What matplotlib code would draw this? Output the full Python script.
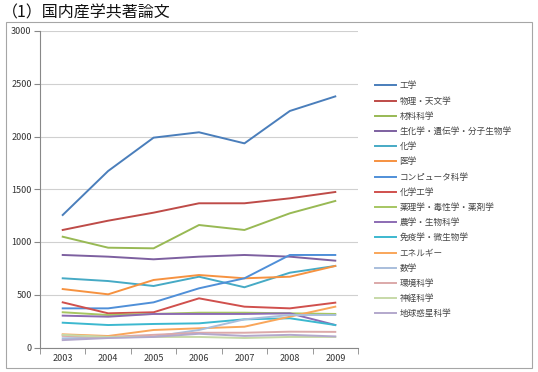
import matplotlib
matplotlib.use("Agg")
import matplotlib.pyplot as plt
from matplotlib.patches import Rectangle

plt.rcParams['font.family'] = ['Noto Sans CJK JP', 'DejaVu Sans']

years = ['2003', '2004', '2005', '2006', '2007', '2008', '2009']
fields = ['工学', '物理・天文学', '材料科学', '生化学・遺伝学・分子生物学', '化学', '医学',
          'コンピュータ科学', '化学工学', '薬理学・毒性学・薬剤学', '農学・生物科学',
          '免疫学・微生物学', 'エネルギー', '数学', '環境科学', '神経科学', '地球惑星科学']

eng = [1256, 1673, 1989, 2040, 1935, 2242, 2380]
phys = [1114, 1202, 1278, 1367, 1367, 1414, 1474]
mat = [1050, 946, 940, 1161, 1114, 1272, 1389]
biochem = [877, 861, 836, 861, 877, 861, 823]
chem = [656, 630, 583, 671, 571, 709, 773]
med = [554, 504, 640, 687, 656, 671, 773]
comp = [371, 371, 428, 561, 656, 877, 877]
chemeng = [428, 324, 334, 466, 387, 371, 425]
pharm = [334, 308, 318, 330, 330, 324, 318]
agri = [302, 292, 318, 318, 318, 324, 213]
immu = [235, 213, 223, 229, 267, 277, 213]
energy = [125, 109, 166, 182, 197, 292, 387]
math_ = [87, 95, 103, 166, 267, 308, 308]
env = [110, 100, 120, 140, 140, 150, 148]
neuro = [120, 100, 100, 100, 90, 100, 100]
earth = [70, 90, 100, 130, 110, 120, 105]

series = [eng, phys, mat, biochem, chem, med, comp, chemeng, pharm, agri, immu,
          energy, math_, env, neuro, earth]
colors = ['#4A7EBB', '#BE4B48', '#98B954', '#7D60A0', '#46AAC5', '#F69240',
          '#4F8FD8', '#D0504D', '#A6C662', '#8C6BB3', '#3CB8CF', '#F9A65A',
          '#A9BEDC', '#DCA9A9', '#C7D9A8', '#B3A8CC']

fig = plt.figure(figsize=(5.38, 3.72), dpi=100)
W, H = 538, 372

# chart outer frame
fig.patches.append(Rectangle((6 / W, 4 / H), 526 / W, 346 / H, transform=fig.transFigure,
                             fill=False, edgecolor='#A6A6A6', linewidth=0.8))

fig.text(2 / W, 1 - 13 / H, '（1）国内産学共著論文', fontsize=11.5,
         va='center', ha='left', color='#111111')

ax = fig.add_axes([40 / W, 1 - 347.5 / H, 318 / W, (347.5 - 31) / H])
x = list(range(len(years)))
for s, c, lab in zip(series, colors, fields):
    ax.plot(x, s, color=c, lw=1.4, label=lab)

ax.set_xlim(-0.5, len(years) - 0.5)
ax.set_ylim(0, 3000)
ax.set_yticks(range(0, 3001, 500))
ax.set_xticks(x)
ax.set_xticklabels(years)
ax.set_xticks([i + 0.5 for i in range(-1, len(years))], minor=True)
ax.tick_params(axis='x', which='major', length=0, labelsize=6.5, colors='#333333', pad=5)
ax.tick_params(axis='x', which='minor', length=4, color='#888888', direction='out')
ax.tick_params(axis='y', labelsize=6.5, colors='#333333', length=4, color='#888888', pad=2)
ax.grid(axis='y', color='#D0D0D0', lw=0.8)
ax.set_axisbelow(True)
for sp in ['top', 'right']:
    ax.spines[sp].set_visible(False)
ax.spines['left'].set_color('#888888')
ax.spines['bottom'].set_color('#888888')
ax.spines['left'].set_linewidth(0.8)
ax.spines['bottom'].set_linewidth(0.8)

leg = fig.legend(loc='upper left', bbox_to_anchor=(372 / W, 1 - 78 / H), frameon=False,
                 fontsize=6.2, handlelength=2.4, handletextpad=0.4, labelspacing=0.72,
                 borderaxespad=0)
for t in leg.get_texts():
    t.set_color('#444444')

fig.savefig('out.png', dpi=100)
